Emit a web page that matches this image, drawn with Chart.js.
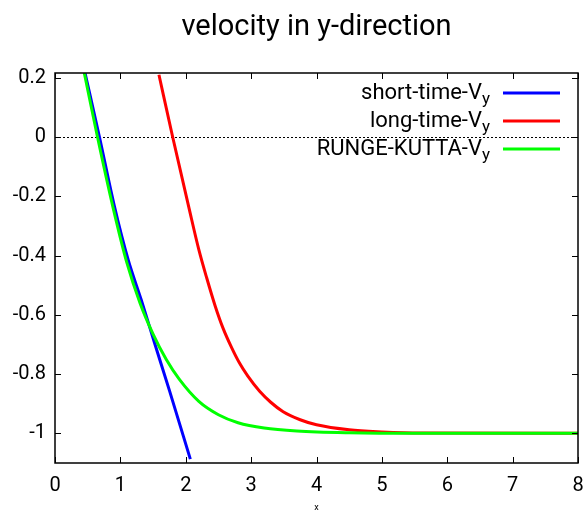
<!DOCTYPE html>
<html>
<head>
<meta charset="utf-8">
<script src="https://cdn.jsdelivr.net/npm/chart.js@4/dist/chart.umd.min.js"></script>
<style>
  html, body { margin: 0; padding: 0; background: #fff; }
</style>
</head>
<body>
<canvas id="chart-container-1" width="586" height="513"></canvas>
<script>
const xTicks = [0, 1, 2, 3, 4, 5, 6, 7, 8];
const yTicks = [0.2, 0, -0.2, -0.4, -0.6, -0.8, -1];

// short-time approximation
const shortTimeX = [0.45, 0.68, 0.91, 1.12, 1.32, 1.53, 1.75, 2.07];
const shortTimeY = [0.225, 0, -0.235, -0.415, -0.55, -0.70, -0.855, -1.087];

// long-time approximation
const longTimeX = [1.59, 1.80, 2.05, 2.20, 2.32, 2.45, 2.57, 2.70, 2.82, 2.95, 3.13, 3.30, 3.49, 3.75, 4.0, 4.5, 5.0, 5.6, 8.0];
const longTimeY = [0.21, 0, -0.24, -0.38, -0.475, -0.57, -0.645, -0.71, -0.762, -0.807, -0.858, -0.895, -0.927, -0.954, -0.971, -0.988, -0.995, -0.999, -1.0];

// numerical solution
const rungeKuttaX = [0.44, 0.65, 0.89, 1.10, 1.30, 1.50, 1.70, 1.90, 2.20, 2.50, 2.80, 3.20, 3.70, 4.5, 5.5, 8.0];
const rungeKuttaY = [0.225, 0, -0.24, -0.425, -0.56, -0.665, -0.75, -0.817, -0.892, -0.937, -0.964, -0.982, -0.992, -0.998, -1.0, -1.0];

const toPoints = (xs, ys) => xs.map((x, i) => ({ x: x, y: ys[i] }));

const FONT = "Roboto, 'Liberation Sans', sans-serif";

// title, zero axis, frame with inward ticks, legend
const gnuplotLook = {
  id: "gnuplotLook",
  beforeDatasetsDraw(chart) {
    const { ctx, chartArea: a, scales } = chart;
    const y0 = Math.round(scales.y.getPixelForValue(0)) + 0.5;
    ctx.save();
    ctx.strokeStyle = "#000";
    ctx.lineWidth = 1;
    ctx.setLineDash([2, 2]);
    ctx.beginPath();
    ctx.moveTo(a.left, y0);
    ctx.lineTo(a.right, y0);
    ctx.stroke();
    ctx.restore();
  },
  afterDatasetsDraw(chart) {
    const { ctx, chartArea: a, scales } = chart;
    ctx.save();
    ctx.strokeStyle = "#000";
    ctx.lineWidth = 1.5;
    ctx.strokeRect(a.left, a.top, a.right - a.left, a.bottom - a.top);

    const len = 6;
    ctx.lineWidth = 1;
    ctx.beginPath();
    xTicks.forEach((v) => {
      const px = Math.round(scales.x.getPixelForValue(v)) + 0.5;
      ctx.moveTo(px, a.bottom);
      ctx.lineTo(px, a.bottom - len);
      ctx.moveTo(px, a.top);
      ctx.lineTo(px, a.top + len);
    });
    yTicks.forEach((v) => {
      const py = Math.round(scales.y.getPixelForValue(v)) + 0.5;
      ctx.moveTo(a.left, py);
      ctx.lineTo(a.left + len, py);
      ctx.moveTo(a.right, py);
      ctx.lineTo(a.right - len, py);
    });
    ctx.stroke();
    ctx.restore();
  },
  afterDraw(chart) {
    const { ctx, chartArea: a } = chart;
    ctx.save();
    ctx.fillStyle = "#000";
    ctx.textBaseline = "middle";

    // title
    ctx.textAlign = "center";
    ctx.font = "29px " + FONT;
    ctx.fillText("velocity in y-direction", (a.left + a.right) / 2, 28);

    // x axis label
    ctx.font = "9px " + FONT;
    ctx.fillText("x", (a.left + a.right) / 2, 508);

    // legend, in dataset order
    const textRight = a.right - 88;
    chart.data.datasets.forEach((ds, i) => {
      const y = 93 + i * 28;
      const [main, sub] = ds.label.split("_");
      ctx.font = "17px " + FONT;
      const subW = ctx.measureText(sub).width;
      ctx.textAlign = "right";
      ctx.fillText(sub, textRight, y + 7);
      ctx.font = "22px " + FONT;
      ctx.fillText(main, textRight - subW, y);

      ctx.strokeStyle = ds.borderColor;
      ctx.lineWidth = 3;
      ctx.beginPath();
      ctx.moveTo(a.right - 75, y);
      ctx.lineTo(a.right - 18, y);
      ctx.stroke();
    });
    ctx.restore();
  },
};

const lineStyle = {
  showLine: true,
  pointRadius: 0,
  borderWidth: 3,
  fill: false,
  cubicInterpolationMode: "monotone",
};

new Chart(document.getElementById("chart-container-1"), {
  type: "scatter",
  data: {
    datasets: [
      { ...lineStyle, label: "short-time-V_y", data: toPoints(shortTimeX, shortTimeY), borderColor: "#0000ff", order: 2 },
      { ...lineStyle, label: "long-time-V_y", data: toPoints(longTimeX, longTimeY), borderColor: "#ff0000", order: 1 },
      { ...lineStyle, label: "RUNGE-KUTTA-V_y", data: toPoints(rungeKuttaX, rungeKuttaY), borderColor: "#00ff00", order: 0 },
    ],
  },
  options: {
    responsive: false,
    devicePixelRatio: 1,
    animation: false,
    layout: { padding: { top: 73, right: 8, left: 0, bottom: 0 } },
    plugins: {
      legend: { display: false },
      title: { display: false },
      tooltip: { enabled: false },
    },
    scales: {
      x: {
        type: "linear",
        min: 0,
        max: 8,
        grid: { display: false, drawTicks: false },
        border: { display: false },
        afterBuildTicks: (scale) => {
          scale.ticks = xTicks.map((v) => ({ value: v }));
        },
        afterFit: (scale) => {
          scale.height = 50;
          scale.paddingLeft = 0;
          scale.paddingRight = 0;
        },
        ticks: {
          padding: 11,
          color: "#000",
          font: { size: 20, family: FONT },
          maxRotation: 0,
          callback: (v) => String(v),
        },
      },
      y: {
        type: "linear",
        min: -1.1,
        max: 0.216,
        grid: { display: false, drawTicks: false },
        border: { display: false },
        afterBuildTicks: (scale) => {
          scale.ticks = yTicks.map((v) => ({ value: v }));
        },
        afterFit: (scale) => {
          scale.width = 55;
          scale.paddingTop = 0;
          scale.paddingBottom = 0;
        },
        ticks: {
          padding: 9,
          color: "#000",
          font: { size: 20, family: FONT },
          callback: (v) => String(v),
        },
      },
    },
  },
  plugins: [gnuplotLook],
});
</script>
</body>
</html>
